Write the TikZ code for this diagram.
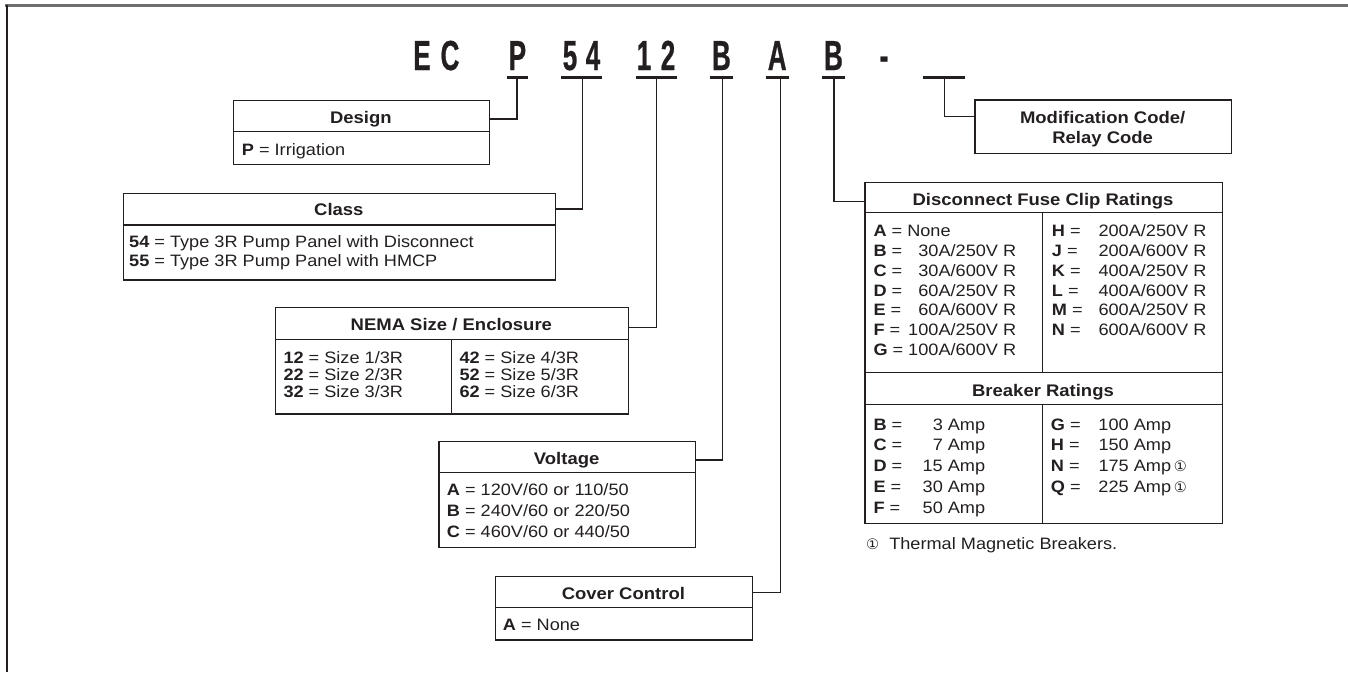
\documentclass[tikz,border=0pt]{standalone}
\usepackage{fontspec}
\setmainfont{Liberation Sans}[FakeStretch=1.1]
\newfontfamily\codefont{Liberation Sans}[FakeStretch=0.62,FakeBold=0.6]
\newfontfamily\symfont{DejaVu Sans}
\definecolor{ink}{HTML}{231F20}
\definecolor{framegray}{HTML}{6E6E6E}
\newcommand{\codeR}[4]{\makebox[#1][l]{\textbf{#3} =}\makebox[#2][r]{#4}}
\newcommand{\codeL}[3]{\makebox[#1][l]{\textbf{#2} =}#3}
\newcommand{\circone}{{\symfont\fontsize{14.5}{14.5}\selectfont ①}}
\newcommand{\cnote}{\,\circone}
\tikzset{
  box/.style={draw=ink, line width=1.3pt, inner sep=0pt, anchor=north west},
  sepline/.style={draw=ink, line width=1.3pt},
  hdr/.style={anchor=base, inner sep=0pt, text=ink, font=\fontsize{16.8}{19}\selectfont\bfseries},
  body/.style={anchor=base west, inner sep=0pt, text=ink, font=\fontsize{16.5}{#1}\selectfont},
  body/.default=19.8,
  glyph/.style={anchor=base, inner sep=0pt, text=ink, font=\codefont\fontsize{42}{42}\selectfont\bfseries},
  uline/.style={draw=ink, line width=3pt},
  conn/.style={draw=ink, line width=1.2pt}
}
\begin{document}
\begin{tikzpicture}[x=1pt,y=-1pt]
\useasboundingbox (0,0) rectangle (1348,672);
% frame
\draw[framegray, line width=3pt] (5,5.5) -- (1348,5.5);
\draw[ink, line width=1.8pt] (7,5) -- (7,672);

% code glyphs
\node[glyph] (gE) at (422,70) {E};
\node[glyph] (gC) at (450,70) {C};
\node[glyph] (gP) at (517.4,70) {P};
\node[glyph] (g5) at (570,70) {5};
\node[glyph] (g4) at (593,70) {4};
\node[glyph] (g1) at (644,70) {1};
\node[glyph] (g2) at (668,70) {2};
\node[glyph] (gB) at (721.4,70) {B};
\node[glyph] (gA) at (777.2,70) {A};
\node[glyph] (gBb) at (833.5,70) {B};
\node[glyph] (gD) at (884,70) {-};

% underlines
\draw[uline] (507.4,77) -- (528.1,77);
\draw[uline] (561,77) -- (602,77);
\draw[uline] (635.6,77) -- (676.6,77);
\draw[uline] (709.9,77) -- (732.9,77);
\draw[uline] (765.8,77) -- (788.7,77);
\draw[uline] (822,77) -- (845,77);
\draw[uline] (923.4,77) -- (964.8,77);
\coordinate (uP) at (517,78.5);
\coordinate (u54) at (582.8,78.5);
\coordinate (u12) at (656.3,78.5);
\coordinate (uB) at (722.5,78.5);
\coordinate (uA) at (780.7,78.5);
\coordinate (uBb) at (834,78.5);
\coordinate (uM) at (944.5,78.5);

% Design
\node[box, minimum width=256.3pt, minimum height=64pt] (design) at (232.7,100) {};
\draw[sepline] (232.7,131.7) -- (489,131.7);
\node[hdr] (designH) at (360.85,123.3) {Design};
\node[body] (designB) at (241.7,155) {\textbf{P} = Irrigation};
\coordinate (dP) at (489,119);

% Class
\node[box, minimum width=432.3pt, minimum height=86.6pt] (class) at (122.7,192.7) {};
\draw[sepline] (122.7,225) -- (555,225);
\node[hdr] (classH) at (338.85,215) {Class};
\node[body=19.4] (classB) at (129,247.3) {\begin{tabular}[t]{@{}l@{}}\textbf{54} = Type 3R Pump Panel with Disconnect\\ \textbf{55} = Type 3R Pump Panel with HMCP\end{tabular}};
\coordinate (d54) at (555,209);

% NEMA
\node[box, minimum width=352.7pt, minimum height=106.6pt] (nema) at (275,306.7) {};
\draw[sepline] (275,339.3) -- (627.7,339.3);
\draw[sepline] (451.7,339.3) -- (451.7,413.3);
\node[hdr] (nemaH) at (451.35,330) {NEMA Size / Enclosure};
\node[body=17.2] (nemaL) at (283.3,363.3) {\begin{tabular}[t]{@{}l@{}}\textbf{12} = Size 1/3R\\ \textbf{22} = Size 2/3R\\ \textbf{32} = Size 3/3R\end{tabular}};
\node[body=17.2] (nemaR) at (459.3,363.3) {\begin{tabular}[t]{@{}l@{}}\textbf{42} = Size 4/3R\\ \textbf{52} = Size 5/3R\\ \textbf{62} = Size 6/3R\end{tabular}};
\coordinate (d12) at (627.7,327.3);

% Voltage
\node[box, minimum width=256.7pt, minimum height=106pt] (volt) at (438.3,440.7) {};
\draw[sepline] (438.3,472.7) -- (695,472.7);
\node[hdr] (voltH) at (566.65,464.3) {Voltage};
\node[body=21.2] (voltB) at (446.7,495) {\begin{tabular}[t]{@{}l@{}}\textbf{A} = 120V/60 or 110/50\\ \textbf{B} = 240V/60 or 220/50\\ \textbf{C} = 460V/60 or 440/50\end{tabular}};
\coordinate (dB) at (695,460);

% Cover control
\node[box, minimum width=256.7pt, minimum height=63.3pt] (cover) at (495,576) {};
\draw[sepline] (495,607.7) -- (751.7,607.7);
\node[hdr] (coverH) at (623.35,599.3) {Cover Control};
\node[body] (coverB) at (502.7,630) {\textbf{A} = None};
\coordinate (dA) at (751.7,592.3);

% Fuse / Breaker
\node[box, minimum width=357.4pt, minimum height=341pt] (fuse) at (864.3,181.7) {};
\draw[sepline] (864.3,212.3) -- (1221.7,212.3);
\draw[sepline] (864.3,372.7) -- (1221.7,372.7);
\draw[sepline] (864.3,404.3) -- (1221.7,404.3);
\draw[sepline] (1042.3,212.3) -- (1042.3,372.7);
\draw[sepline] (1042.3,404.3) -- (1042.3,522.7);
\node[hdr] (fuseH) at (1043,205) {Disconnect Fuse Clip Ratings};
\node[hdr] (brkH) at (1043,396.7) {Breaker Ratings};
\node[body=19.8] (fuseL) at (873.3,236.7) {\begin{tabular}[t]{@{}l@{}}\textbf{A} = None\\
\codeR{40pt}{102.7pt}{B}{30A/250V R}\\
\codeR{40pt}{102.7pt}{C}{30A/600V R}\\
\codeR{40pt}{102.7pt}{D}{60A/250V R}\\
\codeR{40pt}{102.7pt}{E}{60A/600V R}\\
\codeR{40pt}{102.7pt}{F}{100A/250V R}\\
\codeR{40pt}{102.7pt}{G}{100A/600V R}\end{tabular}};
\node[body=19.8] (fuseR) at (1051.7,236.7) {\begin{tabular}[t]{@{}l@{}}\codeL{46.6pt}{H}{200A/250V R}\\
\codeL{46.6pt}{J}{200A/600V R}\\
\codeL{46.6pt}{K}{400A/250V R}\\
\codeL{46.6pt}{L}{400A/600V R}\\
\codeL{46.6pt}{M}{600A/250V R}\\
\codeL{46.6pt}{N}{600A/600V R}\end{tabular}};
\node[body=20.8] (brkL) at (873.3,430) {\begin{tabular}[t]{@{}l@{}}\codeR{40pt}{71.7pt}{B}{3 Amp}\\
\codeR{40pt}{71.7pt}{C}{7 Amp}\\
\codeR{40pt}{71.7pt}{D}{15 Amp}\\
\codeR{40pt}{71.7pt}{E}{30 Amp}\\
\codeR{40pt}{71.7pt}{F}{50 Amp}\end{tabular}};
\node[body=20.8] (brkR) at (1050.7,430) {\begin{tabular}[t]{@{}l@{}}\codeL{47.6pt}{G}{100 Amp}\\
\codeL{47.6pt}{H}{150 Amp}\\
\codeL{47.6pt}{N}{175 Amp\cnote}\\
\codeL{47.6pt}{Q}{225 Amp\cnote}\end{tabular}};
\node[body] (note) at (866,549) {\circone\ \ Thermal Magnetic Breakers.};
\coordinate (dBb) at (864.3,201.7);

% Modification
\node[box, minimum width=256.7pt, minimum height=53.4pt] (mod) at (974.3,99.3) {};
\node[hdr] (modH) at (1102.65,123.3) {\begin{tabular}[t]{@{}c@{}}Modification Code/\\[1pt] Relay Code\end{tabular}};
\coordinate (dM) at (974.3,116.7);

% connectors
\draw[conn] (uP) |- (dP);
\draw[conn] (u54) |- (d54);
\draw[conn] (u12) |- (d12);
\draw[conn] (uB) |- (dB);
\draw[conn] (uA) |- (dA);
\draw[conn] (uBb) |- (dBb);
\draw[conn] (uM) |- (dM);
\end{tikzpicture}
\end{document}
